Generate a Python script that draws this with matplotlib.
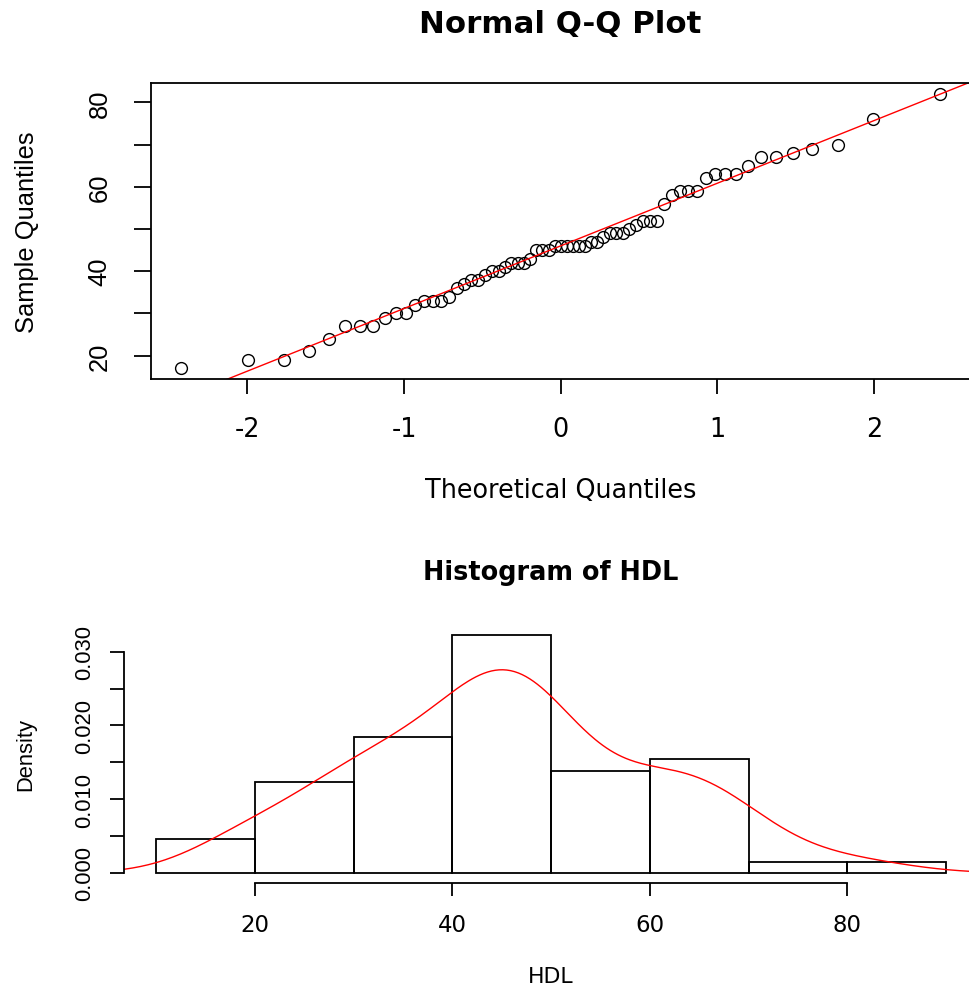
import numpy as np
import matplotlib
matplotlib.use("Agg")
import matplotlib.pyplot as plt
from statistics import NormalDist

HDL = [17, 19, 19, 21, 24, 27, 27, 27, 29, 30, 30,
       32, 33, 33, 33, 34, 36, 37, 38, 38, 39, 40, 40,
       41, 42, 42, 42, 43, 45, 45, 45, 46, 46, 46, 46, 46, 46,
       47, 47, 48, 49, 49, 49, 50,
       51, 52, 52, 52, 56, 58, 59, 59, 59,
       62, 63, 63, 63, 65, 67, 67, 68, 69, 70,
       76, 82]
breaks = [10, 20, 30, 40, 50, 60, 70, 80, 90]

qq_xticks = [-2, -1, 0, 1, 2]
qq_yticks = [20, 30, 40, 50, 60, 70, 80]
qq_yticklabels = ["20", "", "40", "", "60", "", "80"]
hist_xticks = [20, 40, 60, 80]
hist_yticks = [0, 0.005, 0.010, 0.015, 0.020, 0.025, 0.030]
hist_yticklabels = ["0.000", "", "0.010", "", "0.020", "", "0.030"]

plt.rcParams['font.family'] = ['DejaVu Sans']
ROT_FONT = 'Liberation Sans'

x = np.sort(np.array(HDL, dtype=float))
n = len(x)
nd = NormalDist()
theo = np.array([nd.inv_cdf((i + 0.5) / n) for i in range(n)])

# qqline through the quartiles
q1, q3 = np.percentile(x, [25, 75])
slope = (q3 - q1) / (nd.inv_cdf(0.75) - nd.inv_cdf(0.25))
icpt = q1 - slope * nd.inv_cdf(0.25)

# histogram with right-closed bins
idx = np.searchsorted(breaks, x, side="left") - 1
idx[idx < 0] = 0
counts = np.bincount(idx, minlength=len(breaks) - 1)
dens = counts / (n * np.diff(breaks))

# gaussian kde, bw.nrd0
sd = x.std(ddof=1)
bw = 0.9 * min(sd, (q3 - q1) / 1.34) * n ** -0.2
gx = np.linspace(x.min() - 3 * bw, x.max() + 3 * bw, 512)
gy = np.exp(-0.5 * ((gx[:, None] - x[None, :]) / bw) ** 2).sum(axis=1) / (n * bw * np.sqrt(2 * np.pi))


def rlim(lo, hi):
    d = (hi - lo) * 0.04
    return lo - d, hi + d


fig = plt.figure(figsize=(9.7, 9.87), dpi=100)

# ---- Normal Q-Q plot ----
ax1 = fig.add_axes([0.15546, 0.61464, 0.84495, 0.30036])
ax1.plot(theo, x, 'o', mfc='none', mec='black', ms=8.5, mew=1.0)
ax1.axline((0, icpt), slope=slope, color='red', lw=1.0)
ax1.set_xlim(*rlim(theo.min(), theo.max()))
ax1.set_ylim(*rlim(x.min(), x.max()))
for s in ax1.spines.values():
    s.set_linewidth(1.3)
ax1.set_xticks(qq_xticks)
ax1.set_xticklabels([str(t) for t in qq_xticks])
ax1.set_yticks(qq_yticks)
ax1.set_yticklabels(qq_yticklabels)
ax1.tick_params(axis='x', direction='out', length=10.8, width=1.3, pad=30, labelsize=18.4)
ax1.tick_params(axis='y', direction='out', length=12.2, width=1.3, pad=19.5, labelsize=18.4)
plt.setp(ax1.get_xticklabels(), va='baseline')
plt.setp(ax1.get_yticklabels(), family=ROT_FONT, rotation=90, rotation_mode='anchor',
         ha='center', va='baseline')
ax1.set_title("Normal Q-Q Plot", fontsize=22.2, fontweight='bold', y=1.172, pad=0)
ax1.set_xlabel("Theoretical Quantiles", fontsize=18.4, va='baseline')
ax1.xaxis.set_label_coords(0.5, -0.3969)
ax1.set_ylabel("Sample Quantiles", fontsize=18.4, family=ROT_FONT, va='baseline')
ax1.yaxis.set_label_coords(-0.1431, 0.5)

# ---- Histogram of HDL ----
ax2 = fig.add_axes([0.12835, 0.10486, 0.87948, 0.26079])
ax2.bar(breaks[:-1], dens, width=np.diff(breaks), align='edge',
        fill=False, edgecolor='black', linewidth=1.3)
ax2.plot(gx, gy, color='red', lw=1.0)
ax2.set_xlim(*rlim(breaks[0], breaks[-1]))
ax2.set_ylim(*rlim(0, dens.max()))
for side in ['top', 'right']:
    ax2.spines[side].set_visible(False)
ax2.spines['left'].set_bounds(hist_yticks[0], hist_yticks[-1])
ax2.spines['bottom'].set_bounds(hist_xticks[0], hist_xticks[-1])
ax2.spines['left'].set_linewidth(1.3)
ax2.spines['bottom'].set_linewidth(1.3)
ax2.set_xticks(hist_xticks)
ax2.set_xticklabels([str(t) for t in hist_xticks])
ax2.set_yticks(hist_yticks)
ax2.set_yticklabels(hist_yticklabels)
ax2.tick_params(axis='x', direction='out', length=9.7, width=1.3, pad=25.2, labelsize=16.5)
ax2.tick_params(axis='y', direction='out', length=10.4, width=1.3, pad=14.5, labelsize=15.8)
plt.setp(ax2.get_xticklabels(), va='baseline')
plt.setp(ax2.get_yticklabels(), family=ROT_FONT, rotation=90, rotation_mode='anchor',
         ha='center', va='baseline')
ax2.set_title("Histogram of HDL", fontsize=18.4, fontweight='bold', y=1.179, pad=0)
ax2.set_xlabel("HDL", fontsize=15.8, va='baseline')
ax2.xaxis.set_label_coords(0.5, -0.3866)
ax2.set_ylabel("Density", fontsize=15.8, family=ROT_FONT, va='baseline')
ax2.yaxis.set_label_coords(-0.1088, 0.5)

fig.savefig("out.png", dpi=100)
